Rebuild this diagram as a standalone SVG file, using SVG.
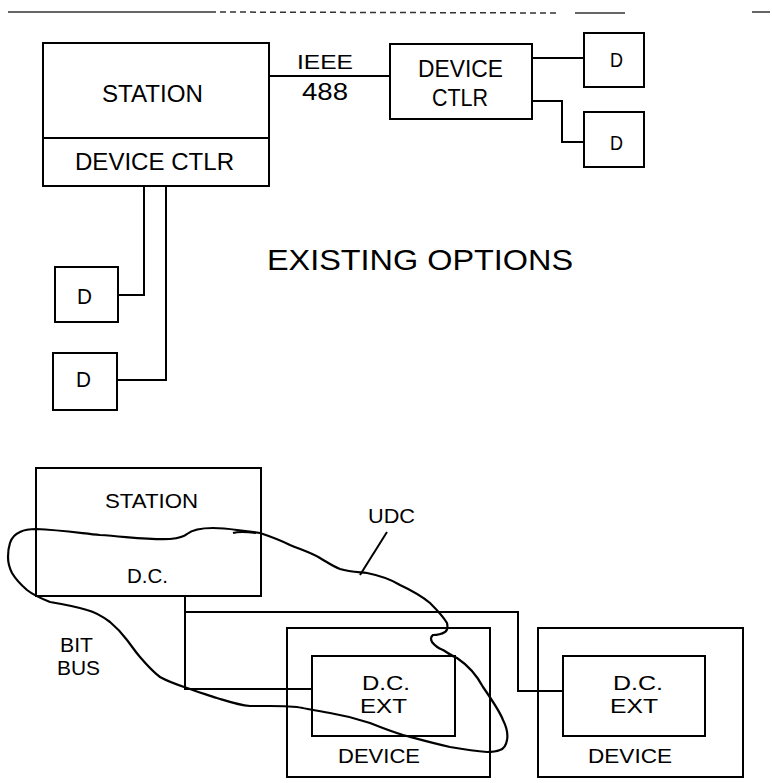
<svg xmlns="http://www.w3.org/2000/svg" width="772" height="783" viewBox="0 0 772 783">
<style>
.box{fill:none;stroke:#000;stroke-width:2}
.ln{fill:none;stroke:#000;stroke-width:2}
.cv{fill:none;stroke:#000;stroke-width:2.2;stroke-linejoin:round}
.t{font-family:"Liberation Sans","DejaVu Sans",Arial,sans-serif;fill:#000;font-weight:normal}
.edge{fill:none;stroke:#333;stroke-width:1.5}
</style>
<rect width="772" height="783" fill="#fff"/>
<g id="scan-edge">
<line class="edge" x1="8" y1="12" x2="210" y2="12"/>
<line class="edge" x1="210" y1="12" x2="560" y2="13" stroke-dasharray="6 4"/>
<line class="edge" x1="575" y1="13" x2="625" y2="13"/>
<line class="edge" x1="752" y1="12" x2="770" y2="12"/>
</g>
<g id="connectors">
<line class="ln" x1="269" y1="76" x2="390" y2="76"/>
<line class="ln" x1="532" y1="58" x2="584" y2="58"/>
<polyline class="ln" points="532,101 562,101 562,142 584,142"/>
<polyline class="ln" points="144,186 144,295 118,295"/>
<polyline class="ln" points="166,186 166,380 117,380"/>
<polyline class="ln" points="185,596 185,689 312,689"/>
<polyline class="ln" points="185,612 518,612 518,691 563,691"/>
<line class="ln" x1="387" y1="532" x2="360" y2="575"/>
</g>
<g id="station-top">
<rect class="box" x="43" y="43" width="226" height="143"/>
<line class="ln" x1="43" y1="138" x2="269" y2="138"/>
<text class="t" x="102" y="102" font-size="24" textLength="101" lengthAdjust="spacingAndGlyphs">STATION</text>
<text class="t" x="75" y="170" font-size="24" textLength="159" lengthAdjust="spacingAndGlyphs">DEVICE CTLR</text>
</g>
<g id="ieee-label">
<text class="t" x="297" y="69" font-size="20" textLength="56" lengthAdjust="spacingAndGlyphs">IEEE</text>
<text class="t" x="302" y="100" font-size="23" textLength="46" lengthAdjust="spacingAndGlyphs">488</text>
</g>
<g id="device-ctlr">
<rect class="box" x="390" y="44" width="142" height="75"/>
<text class="t" x="418" y="77" font-size="23" textLength="85" lengthAdjust="spacingAndGlyphs">DEVICE</text>
<text class="t" x="432" y="106" font-size="23" textLength="56" lengthAdjust="spacingAndGlyphs">CTLR</text>
</g>
<g id="d-right-1">
<rect class="box" x="584" y="33" width="60" height="54"/>
<text class="t" x="610" y="67" font-size="20" textLength="13" lengthAdjust="spacingAndGlyphs">D</text>
</g>
<g id="d-right-2">
<rect class="box" x="584" y="112" width="60" height="55"/>
<text class="t" x="610" y="150" font-size="20" textLength="13" lengthAdjust="spacingAndGlyphs">D</text>
</g>
<g id="d-left-1">
<rect class="box" x="55" y="267" width="63" height="55"/>
<text class="t" x="77" y="304" font-size="22" textLength="15" lengthAdjust="spacingAndGlyphs">D</text>
</g>
<g id="d-left-2">
<rect class="box" x="53" y="353" width="64" height="57"/>
<text class="t" x="76" y="387" font-size="22" textLength="15" lengthAdjust="spacingAndGlyphs">D</text>
</g>
<g id="title">
<text class="t" x="267" y="270" font-size="30" textLength="306" lengthAdjust="spacingAndGlyphs">EXISTING OPTIONS</text>
</g>
<g id="station-bottom">
<rect class="box" x="36" y="468" width="225" height="128"/>
<text class="t" x="105" y="508" font-size="21" textLength="93" lengthAdjust="spacingAndGlyphs">STATION</text>
<text class="t" x="127" y="583" font-size="21" textLength="41" lengthAdjust="spacingAndGlyphs">D.C.</text>
</g>
<g id="device-1">
<rect class="box" x="287" y="628" width="203" height="149"/>
<rect class="box" x="312" y="656" width="143" height="80"/>
<text class="t" x="362" y="690" font-size="21" textLength="48" lengthAdjust="spacingAndGlyphs">D.C.</text>
<text class="t" x="360" y="713" font-size="21" textLength="47" lengthAdjust="spacingAndGlyphs">EXT</text>
<text class="t" x="338" y="763" font-size="21" textLength="82" lengthAdjust="spacingAndGlyphs">DEVICE</text>
</g>
<g id="device-2">
<rect class="box" x="538" y="628" width="205" height="149"/>
<rect class="box" x="563" y="656" width="142" height="80"/>
<text class="t" x="613" y="690" font-size="21" textLength="50" lengthAdjust="spacingAndGlyphs">D.C.</text>
<text class="t" x="610" y="713" font-size="21" textLength="48" lengthAdjust="spacingAndGlyphs">EXT</text>
<text class="t" x="588" y="763" font-size="21" textLength="84" lengthAdjust="spacingAndGlyphs">DEVICE</text>
</g>
<g id="udc">
<path class="cv" d="M20,532 C26,529 30,529 36,529 C60,530 80,533 100,535 C130,537 150,540 170,539 C180,538 184,537 187,534 C192,530 200,528 213,528 C222,528 230,529 237,530 L260,533 C272,537 282,541 290,545 C305,551 314,554 320,558 C330,564 334,567 340,569 C350,572 358,572 367,573 C382,576 392,580 400,585 C415,592 424,598 430,603 C438,611 444,618 447,623 C448,628 447,631 445,632 C440,635 436,635 433,635 C430,637 431,640 432,642 C435,646 438,648 443,650 C448,653 452,656 457,658 C466,664 475,672 483,687 C492,700 500,712 503,720 C507,728 508,735 507,740 C506,746 503,749 500,750 C495,752 491,752 487,752 C475,751 462,749 450,747 C432,743 418,739 403,735 C390,731 380,727 370,723 C355,718 342,715 330,713 C318,711 308,709 297,707 C285,706 276,706 270,706 C262,706 256,706 250,706 C238,705 227,701 217,698 C205,694 195,691 187,688 C175,684 167,681 160,677 C152,671 146,664 140,657 C134,650 131,645 127,640 C121,632 116,627 110,622 C102,616 95,612 87,610 C74,606 62,604 50,602 C40,598 32,594 27,590 C20,584 15,578 12,573 C9,567 8,562 8,557 C8,551 9,546 10,543 C12,537 15,534 20,532 Z"/>
<path class="cv" d="M233,533 C240,531 248,532 256,533"/>
<text class="t" x="368" y="523" font-size="20" textLength="47" lengthAdjust="spacingAndGlyphs">UDC</text>
</g>
<g id="bitbus-label">
<text class="t" x="60" y="652" font-size="21" textLength="33" lengthAdjust="spacingAndGlyphs">BIT</text>
<text class="t" x="57" y="675" font-size="21" textLength="43" lengthAdjust="spacingAndGlyphs">BUS</text>
</g>
</svg>
